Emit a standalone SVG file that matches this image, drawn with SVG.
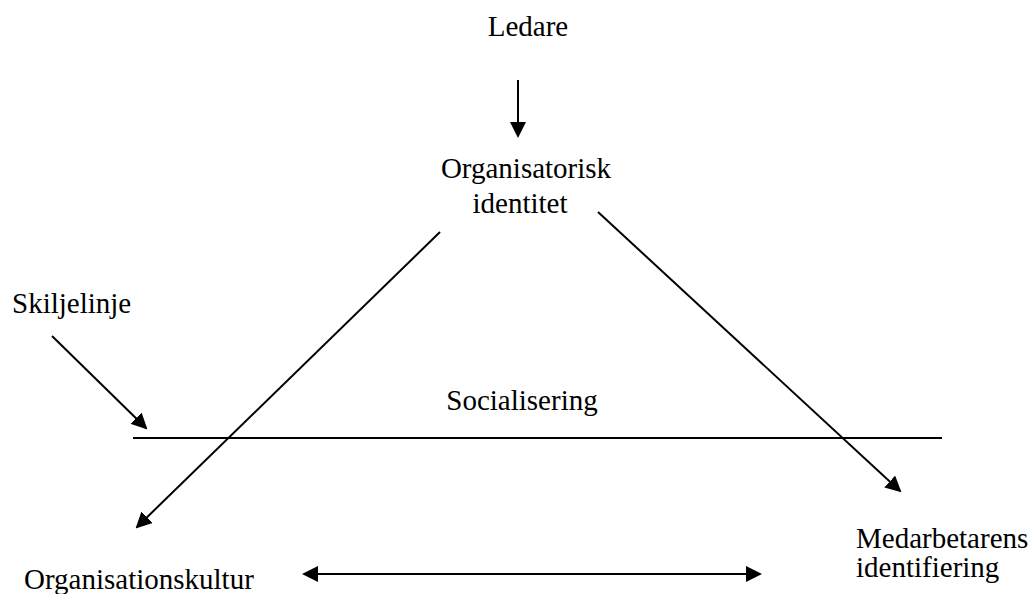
<svg xmlns="http://www.w3.org/2000/svg" width="1030" height="594" viewBox="0 0 1030 594">
<style>
.t{font-family:'Liberation Serif','Times New Roman',serif;font-size:29px;fill:#000}
.c{stroke:#000;stroke-width:2;fill:none}
</style>
<defs>
<marker id="ah" markerWidth="8" markerHeight="8" refX="7" refY="4" orient="auto-start-reverse" markerUnits="strokeWidth">
<path d="M0,0 L8,4 L0,8 Z" fill="#000"/>
</marker>
</defs>
<rect width="1030" height="594" fill="#fff"/>
<g id="ledare"><text class="t" x="528" y="36" text-anchor="middle">Ledare</text></g>
<g id="org-identitet"><text class="t" x="526" y="178" text-anchor="middle">Organisatorisk</text><text class="t" x="520" y="213" text-anchor="middle">identitet</text></g>
<g id="skiljelinje"><text class="t" x="12" y="313">Skiljelinje</text></g>
<g id="socialisering"><text class="t" x="522" y="410" text-anchor="middle">Socialisering</text></g>
<g id="org-kultur"><text class="t" x="24" y="589">Organisationskultur</text></g>
<g id="medarbetare"><text class="t" x="856" y="548">Medarbetarens</text><text class="t" x="856" y="577">identifiering</text></g>
<g id="connectors">
<line class="c" x1="518" y1="80" x2="518" y2="136" marker-end="url(#ah)"/>
<line class="c" x1="440" y1="232" x2="137" y2="527" marker-end="url(#ah)"/>
<line class="c" x1="598" y1="212" x2="900" y2="491" marker-end="url(#ah)"/>
<line class="c" x1="52" y1="336" x2="146" y2="428" marker-end="url(#ah)"/>
<line class="c" x1="133" y1="438" x2="942" y2="438"/>
<line class="c" x1="304" y1="574" x2="760" y2="574" marker-start="url(#ah)" marker-end="url(#ah)"/>
</g>
</svg>
